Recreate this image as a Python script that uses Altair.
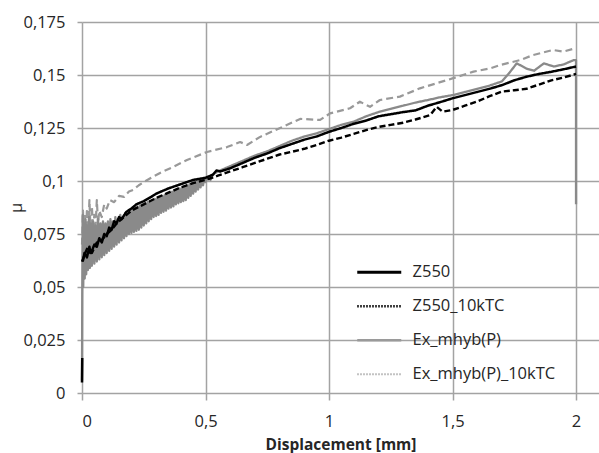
import altair as alt
import pandas as pd

SERIES = ["Z550", "Z550_10kTC", "Ex_mhyb(P)", "Ex_mhyb(P)_10kTC"]

# (displacement [mm], friction coefficient) pairs per test
z550 = [
    (0.000, 0.005), (0.001, 0.0165), (0.002, None), (0.003, 0.062),
    (0.010, 0.066), (0.020, 0.064), (0.030, 0.069), (0.034, 0.066),
    (0.040, 0.067), (0.050, 0.070), (0.060, 0.069), (0.070, 0.073),
    (0.080, 0.071), (0.090, 0.075), (0.100, 0.074), (0.110, 0.078),
    (0.120, 0.077), (0.130, 0.081), (0.140, 0.080), (0.150, 0.083),
    (0.160, 0.082), (0.180, 0.0855), (0.200, 0.087), (0.220, 0.089),
    (0.250, 0.0905), (0.280, 0.0925), (0.300, 0.094), (0.350, 0.0965),
    (0.400, 0.0985), (0.450, 0.1005), (0.500, 0.1015), (0.530, 0.103),
    (0.545, 0.105), (0.560, 0.1045), (0.600, 0.106), (0.650, 0.1085),
    (0.700, 0.111), (0.750, 0.113), (0.800, 0.1155), (0.850, 0.1175),
    (0.900, 0.1195), (0.950, 0.121), (1.000, 0.1232), (1.050, 0.125),
    (1.100, 0.127), (1.150, 0.1285), (1.200, 0.1305), (1.250, 0.1315),
    (1.300, 0.1325), (1.350, 0.1333), (1.400, 0.1355), (1.450, 0.1372),
    (1.500, 0.139), (1.550, 0.1405), (1.600, 0.142), (1.650, 0.1435),
    (1.700, 0.1452), (1.750, 0.1475), (1.800, 0.1492), (1.850, 0.1505),
    (1.900, 0.1515), (1.950, 0.1527), (2.000, 0.154),
]

z550_10ktc = [
    (0.000, 0.062), (0.020, 0.068), (0.040, 0.066), (0.060, 0.071),
    (0.080, 0.072), (0.100, 0.075), (0.120, 0.077), (0.140, 0.080),
    (0.160, 0.082), (0.180, 0.084), (0.200, 0.086), (0.250, 0.089),
    (0.300, 0.092), (0.350, 0.0945), (0.400, 0.097), (0.450, 0.099),
    (0.500, 0.1005), (0.550, 0.1025), (0.600, 0.1045), (0.650, 0.1065),
    (0.700, 0.1085), (0.750, 0.1105), (0.800, 0.1125), (0.850, 0.1138),
    (0.900, 0.1152), (0.950, 0.117), (1.000, 0.119), (1.050, 0.1205),
    (1.100, 0.1222), (1.150, 0.124), (1.200, 0.1255), (1.250, 0.1265),
    (1.300, 0.1275), (1.350, 0.129), (1.410, 0.1311), (1.436, 0.135),
    (1.460, 0.1327), (1.500, 0.1335), (1.550, 0.1355), (1.600, 0.1375),
    (1.650, 0.140), (1.700, 0.1422), (1.750, 0.1428), (1.800, 0.1435),
    (1.850, 0.1455), (1.900, 0.1475), (1.950, 0.1488), (2.000, 0.1505),
]

ex_mhyb = [
    (0.000, 0.006), (0.001, 0.046), (0.003, 0.084), (0.005, 0.050),
    (0.008, 0.080), (0.011, 0.054), (0.014, 0.082), (0.017, 0.056),
    (0.020, 0.079), (0.024, 0.058), (0.028, 0.083), (0.032, 0.059),
    (0.036, 0.080), (0.040, 0.060), (0.045, 0.081), (0.050, 0.061),
    (0.055, 0.079), (0.060, 0.062), (0.065, 0.082), (0.070, 0.063),
    (0.075, 0.080), (0.080, 0.064), (0.085, 0.081), (0.090, 0.065),
    (0.095, 0.080), (0.100, 0.066), (0.105, 0.081), (0.110, 0.067),
    (0.115, 0.082), (0.120, 0.068), (0.125, 0.081), (0.130, 0.069),
    (0.135, 0.083), (0.140, 0.070), (0.145, 0.082), (0.150, 0.071),
    (0.155, 0.084), (0.160, 0.072), (0.165, 0.083), (0.170, 0.073),
    (0.175, 0.085), (0.180, 0.074), (0.185, 0.084), (0.190, 0.075),
    (0.195, 0.086), (0.200, 0.0755), (0.205, 0.087), (0.210, 0.076),
    (0.215, 0.0875), (0.220, 0.0765), (0.225, 0.088), (0.230, 0.077),
    (0.235, 0.0885), (0.240, 0.078), (0.245, 0.089), (0.250, 0.079),
    (0.255, 0.0895), (0.260, 0.080), (0.265, 0.090), (0.270, 0.081),
    (0.275, 0.0905), (0.280, 0.082), (0.285, 0.091), (0.290, 0.083),
    (0.295, 0.0915), (0.300, 0.0835), (0.305, 0.092), (0.310, 0.084),
    (0.315, 0.0925), (0.320, 0.085), (0.325, 0.093), (0.330, 0.0855),
    (0.335, 0.0935), (0.340, 0.086), (0.345, 0.094), (0.350, 0.087),
    (0.355, 0.0945), (0.360, 0.0875), (0.365, 0.095), (0.370, 0.088),
    (0.375, 0.0955), (0.380, 0.089), (0.385, 0.096), (0.390, 0.0895),
    (0.395, 0.0965), (0.400, 0.090), (0.405, 0.097), (0.410, 0.0905),
    (0.415, 0.0975), (0.420, 0.091), (0.425, 0.098), (0.430, 0.092),
    (0.435, 0.0985), (0.440, 0.093), (0.445, 0.099), (0.450, 0.094),
    (0.455, 0.0995), (0.460, 0.095), (0.465, 0.100), (0.470, 0.096),
    (0.475, 0.1005), (0.480, 0.097), (0.485, 0.101), (0.490, 0.098),
    (0.495, 0.1015), (0.500, 0.0995), (0.510, 0.102), (0.520, 0.1005),
    (0.530, 0.103), (0.550, 0.1045),
    (0.600, 0.107), (0.650, 0.1095), (0.700, 0.112), (0.750, 0.114),
    (0.800, 0.1165), (0.850, 0.119), (0.900, 0.121), (0.950, 0.1225),
    (1.000, 0.1245), (1.050, 0.1265), (1.100, 0.128), (1.150, 0.1305),
    (1.200, 0.1325), (1.250, 0.134), (1.300, 0.1355), (1.350, 0.137),
    (1.400, 0.1382), (1.450, 0.1395), (1.500, 0.1405), (1.550, 0.142),
    (1.600, 0.1435), (1.650, 0.145), (1.700, 0.147), (1.730, 0.151),
    (1.760, 0.1555), (1.800, 0.153), (1.830, 0.152), (1.870, 0.1555),
    (1.910, 0.154), (1.950, 0.155), (1.990, 0.157), (2.000, 0.157),
    (2.000, 0.089),
]

ex_mhyb_10ktc = [
    (0.000, 0.070), (0.004, 0.086), (0.008, 0.068), (0.012, 0.084),
    (0.016, 0.072), (0.020, 0.087), (0.025, 0.074), (0.030, 0.091),
    (0.035, 0.076), (0.040, 0.088), (0.045, 0.077), (0.050, 0.084),
    (0.055, 0.079), (0.060, 0.091), (0.065, 0.080), (0.070, 0.086),
    (0.080, 0.083), (0.090, 0.089), (0.100, 0.087), (0.113, 0.091),
    (0.130, 0.090), (0.150, 0.093), (0.170, 0.0925), (0.190, 0.095),
    (0.207, 0.0958), (0.230, 0.098), (0.250, 0.0995), (0.280, 0.1015),
    (0.316, 0.1038), (0.368, 0.1066), (0.425, 0.1099), (0.506, 0.1137),
    (0.587, 0.116), (0.640, 0.1184), (0.668, 0.117), (0.721, 0.1208),
    (0.802, 0.125), (0.883, 0.1293), (0.964, 0.1288), (1.004, 0.1319),
    (1.085, 0.1343), (1.125, 0.1374), (1.166, 0.135), (1.206, 0.1382),
    (1.287, 0.1398), (1.368, 0.1437), (1.500, 0.1484), (1.585, 0.1516),
    (1.652, 0.1531), (1.692, 0.1547), (1.773, 0.157), (1.826, 0.1594),
    (1.907, 0.1618), (1.948, 0.161), (1.996, 0.1626),
]

rows = []
for name, pts in zip(SERIES, [z550, z550_10ktc, ex_mhyb, ex_mhyb_10ktc]):
    for i, (x, y) in enumerate(pts):
        rows.append({"series": name, "i": i, "x": x, "y": y})
df = pd.DataFrame(rows)

FONT = "Open Sans"
GRID = "#a3a3a3"
TEXT = "#262626"
FS = 16.5

line_colors = ["#000000", "#000000", "#8a8a8a", "#999999"]
line_dash = [[1, 0], [6, 3], [1, 0], [7, 4]]
line_width = [2.5, 2.2, 2.0, 2.2]

legend_colors = ["#000000", "#000000", "#9a9a9a", "#b0b0b0"]
legend_dash = [[1, 0], [1.5, 1.5], [1, 0], [1.5, 1.5]]
legend_width = [3.0, 2.0, 2.0, 2.0]

x_enc = alt.X(
    "x:Q",
    scale=alt.Scale(domain=[0, 2.093], nice=False, zero=False),
    axis=alt.Axis(
        values=[0, 0.5, 1, 1.5, 2],
        labelExpr="replace(format(datum.value, '.1~f'), '.', ',')",
        grid=True, gridColor=GRID, gridWidth=1.5,
        domain=False, ticks=True, tickColor=GRID, tickWidth=1.5, tickSize=7,
        labelFont=FONT, labelFontSize=FS, labelColor=TEXT, labelPadding=13,
        title="Displacement [mm]", titleFont=FONT, titleFontSize=15.5,
        titleFontWeight="bold", titleColor=TEXT, titleY=51,
        titleBaseline="middle",
    ),
)
y_enc = alt.Y(
    "y:Q",
    scale=alt.Scale(domain=[0, 0.175], nice=False),
    axis=alt.Axis(
        values=[0, 0.025, 0.05, 0.075, 0.1, 0.125, 0.15, 0.175],
        labelExpr="replace(format(datum.value, '.3~f'), '.', ',')",
        grid=True, gridColor=GRID, gridWidth=1.5,
        domain=False, ticks=True, tickColor=GRID, tickWidth=1.5, tickSize=5,
        labelFont=FONT, labelFontSize=FS, labelColor=TEXT, labelPadding=12,
        title="μ", titleFont=FONT, titleFontSize=FS, titleFontWeight="normal",
        titleColor=TEXT, titleX=-66, titleY=185.5, titleAlign="center",
        titleBaseline="middle",
    ),
)

base = alt.Chart(df)


def series_line(name):
    return base.transform_filter(alt.datum.series == name).mark_line(
        strokeJoin="round"
    ).encode(
        x=x_enc,
        y=y_enc,
        order="i:Q",
        color=alt.Color("series:N", scale=alt.Scale(domain=SERIES, range=line_colors), legend=None),
        strokeDash=alt.StrokeDash("series:N", scale=alt.Scale(domain=SERIES, range=line_dash), legend=None),
        strokeWidth=alt.StrokeWidth("series:N", scale=alt.Scale(domain=SERIES, range=line_width), legend=None),
    )


leg = alt.Legend(
    title=None, orient="none", legendX=289, legendY=242,
    symbolType="M-22,0H22", symbolSize=4, labelOffset=25,
    labelFont=FONT, labelFontSize=FS, labelColor=TEXT,
    rowPadding=17, symbolFillColor="transparent",
)

legend_layer = base.transform_filter("false").mark_line().encode(
    x=x_enc,
    y=y_enc,
    color=alt.Color("series:N", scale=alt.Scale(domain=SERIES, range=legend_colors), legend=leg),
    strokeDash=alt.StrokeDash("series:N", scale=alt.Scale(domain=SERIES, range=legend_dash), legend=leg),
    strokeWidth=alt.StrokeWidth("series:N", scale=alt.Scale(domain=SERIES, range=legend_width), legend=leg),
)

chart = alt.layer(
    series_line("Ex_mhyb(P)_10kTC"),
    series_line("Ex_mhyb(P)"),
    series_line("Z550_10kTC"),
    series_line("Z550"),
    legend_layer,
).resolve_scale(
    color="independent", strokeDash="independent", strokeWidth="independent"
).properties(
    width=517, height=371,
    autosize=alt.AutoSizeParams(type="none"),
    padding={"left": 82, "top": 22, "right": 0, "bottom": 60},
    background="white",
).configure_view(stroke=None)

chart.save("out.html", embed_options={"renderer": "svg", "actions": False})
